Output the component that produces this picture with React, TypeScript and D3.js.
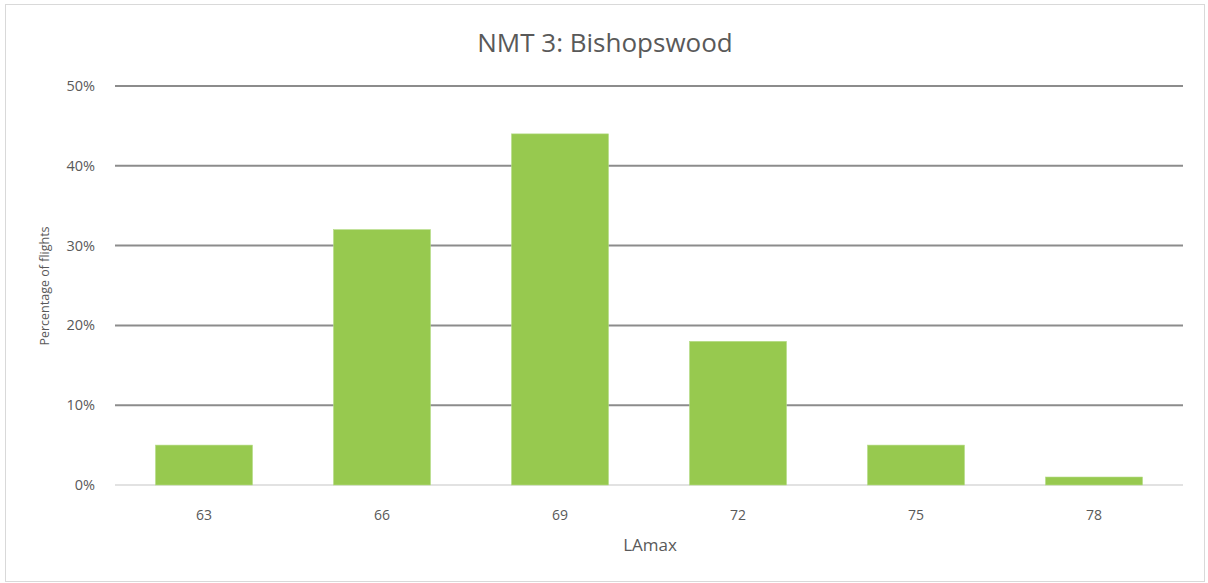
import React from "react";
import * as d3 from "d3";

const categories = ["63", "66", "69", "72", "75", "78"];
const values = [5, 32, 44, 18, 5, 1];
const yTicks = [0, 10, 20, 30, 40, 50];
const title = "NMT 3: Bishopswood";
const xTitle = "LAmax";
const yTitle = "Percentage of flights";

const W = 1208;
const H = 583;
const M = { left: 115, right: 1183, top: 86, bottom: 485 };
const FONT = "'Open Sans', 'Noto Sans', sans-serif";

export default function App() {
  const x = d3.scaleBand<string>().domain(categories).range([M.left, M.right]).paddingInner(0.455).paddingOuter(0.2275);
  const y = d3.scaleLinear().domain([0, 50]).range([M.bottom, M.top]);
  return (
    <svg width={W} height={H} style={{ position: "fixed", left: 0, top: 0, background: "#fff" }}>
      <rect x={5.5} y={4.5} width={1199} height={577} fill="#fff" stroke="#d9d9d9" strokeWidth={1} />
      <text x={605} y={52} textAnchor="middle" fontFamily={FONT} fontSize={26} fill="#595959">{title}</text>
      {yTicks.map((t) => (
        <g key={t}>
          <line x1={M.left} x2={M.right} y1={y(t)} y2={y(t)} stroke={t === 0 ? "#d9d9d9" : "#8c8c8c"} strokeWidth={t === 0 ? 1.5 : 2} />
          <text x={95} y={y(t)} dy="0.35em" textAnchor="end" fontFamily={FONT} fontSize={14.5} fill="#595959">{t}%</text>
        </g>
      ))}
      {categories.map((c, i) => (
        <g key={c}>
          <rect x={x(c)} y={y(values[i])} width={x.bandwidth()} height={y(0) - y(values[i])} fill="#97c94f" stroke="#b5dc86" strokeWidth={0.6} />
          <text x={(x(c) as number) + x.bandwidth() / 2} y={515} dy="0.35em" textAnchor="middle" fontFamily={FONT} fontSize={14} fill="#595959">{c}</text>
        </g>
      ))}
      <text x={650} y={545} dy="0.35em" textAnchor="middle" fontFamily={FONT} fontSize={17} fill="#595959">{xTitle}</text>
      <text transform={`translate(45,${286}) rotate(-90)`} dy="0.35em" textAnchor="middle" fontFamily={FONT} fontSize={12.5} fill="#595959">{yTitle}</text>
    </svg>
  );
}
